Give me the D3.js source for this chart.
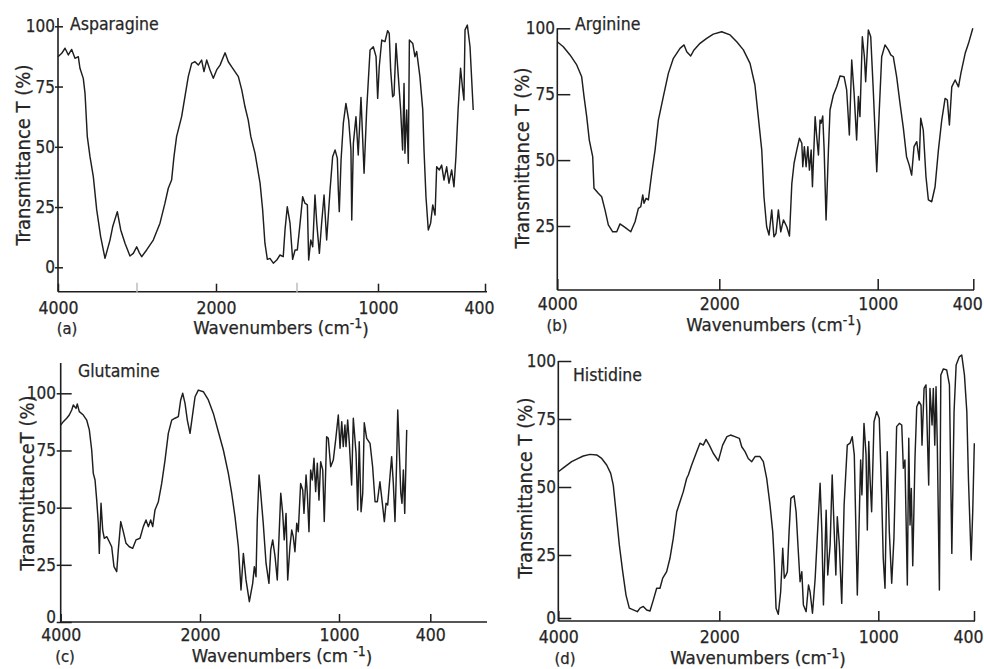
<!DOCTYPE html>
<html>
<head>
<meta charset="utf-8">
<script src="https://cdn.jsdelivr.net/npm/d3@7"></script>
<style>
  html, body { margin: 0; padding: 0; background: #fff; }
  svg text { font-family: "DejaVu Sans Condensed", "DejaVu Sans", sans-serif; fill: #262626; stroke: #262626; stroke-width: 0.25px; }
</style>
</head>
<body>
<svg id="chart" width="984" height="669"></svg>
<script>
// ---------- tick labels ----------
const xTickValues = [4000, 2000, 1000, 400];
const yTickValuesFull = [0, 25, 50, 75, 100];
const yTickValuesNoZero = [25, 50, 75, 100];
const minorTicksA = [3000, 1500];

// ---------- spectra: [wavenumber cm-1, transmittance %] ----------
const asparagine = [
[4000,87.4],[3953,88.8],[3911,90.9],[3869,88.1],[3827,90.4],[3785,86.7],[3743,87.4],[3722,82.6],[3680,78.4],[3658,72.2],[3629,54.2],[3595,45.9],[3553,37.6],[3510,23.8],[3460,12.7],[3405,3.7],[3342,11.3],[3308,16.8],[3249,23.1],[3206,15.5],[3152,10],[3089,4.7],[3047,5.8],[3004,8.5],[2971,6.1],[2941,4.4],[2878,7.2],[2794,11.3],[2709,18.3],[2646,26.6],[2604,32.8],[2562,36.2],[2532,45.9],[2499,54.2],[2435,62.5],[2393,70.8],[2351,79.1],[2308,84.6],[2266,85.3],[2224,83.9],[2182,86],[2152,81.2],[2118,86],[2076,81.9],[2034,78.4],[1996,81.9],[1975,83.9],[1944,89],[1924,85.3],[1903,83.2],[1883,81.2],[1862,79.1],[1841,73.6],[1821,66.6],[1801,61.1],[1785,54.2],[1759,47.3],[1728,34.9],[1712,23.8],[1698,10],[1683,3.3],[1667,3.7],[1646,1.7],[1625,3],[1605,5.1],[1585,4.4],[1574,15.5],[1560,25.1],[1543,18.3],[1527,3.3],[1512,7.2],[1498,7.2],[1481,18.3],[1465,29.3],[1451,26.6],[1436,25.9],[1428,3],[1415,11.3],[1403,8.5],[1389,30],[1378,18.3],[1362,5.8],[1348,18.3],[1333,30],[1317,11.3],[1296,32.1],[1280,45.9],[1265,48.7],[1251,45.2],[1245,32.1],[1239,23.1],[1228,44.5],[1214,59.8],[1198,68],[1181,61.1],[1167,48.7],[1162,19.6],[1152,51.5],[1136,62.5],[1122,46.6],[1105,70.5],[1086,39],[1070,65.3],[1049,90.2],[1029,91.5],[1012,87.4],[1002,70.1],[993,83.2],[979,94.3],[961,93.6],[946,98.2],[937,97.1],[929,81.9],[918,70.8],[910,71.5],[899,92.9],[886,79.1],[873,65.3],[862,48.7],[854,76.3],[849,47.3],[839,65.3],[830,43.2],[824,94.3],[805,92.9],[793,87.4],[783,89.5],[765,79.1],[749,65.3],[742,48.7],[731,29.3],[718,15.5],[705,18.3],[693,25.9],[680,21.7],[671,41.7],[656,40.4],[643,42.4],[630,36.2],[615,41.7],[602,34.9],[587,40.4],[574,33.4],[563,45.9],[551,65.3],[537,82.6],[525,73.6],[518,69.4],[512,98.5],[499,100.5],[484,91.5],[466,65.3]
];

const arginine = [
[4000,94.9],[3926,93],[3843,89.9],[3760,86.1],[3699,81.6],[3670,74.1],[3637,66.5],[3605,57.6],[3563,51.3],[3547,39.3],[3494,37.4],[3452,36.1],[3411,31.1],[3370,25.4],[3316,22.8],[3266,22.8],[3226,25.8],[3164,24.5],[3093,22.8],[3040,26.6],[2999,31.7],[2970,32.3],[2945,36.8],[2929,33.6],[2904,35.5],[2876,34.9],[2834,45],[2793,53.8],[2752,65.2],[2691,74.1],[2629,82.9],[2567,88.6],[2485,92.4],[2435,93.7],[2402,91.1],[2353,89.5],[2312,91.8],[2238,94.3],[2156,96.2],[2074,97.8],[1985,98.7],[1932,97.5],[1890,94.9],[1848,91.8],[1806,86.7],[1775,78.5],[1754,66.5],[1732,53.8],[1718,36.1],[1701,24.7],[1686,21.6],[1669,31.1],[1655,20.9],[1642,22.2],[1627,31.1],[1612,22.8],[1595,27.3],[1574,24.7],[1557,21.2],[1542,41.2],[1528,48.8],[1511,53.8],[1494,58.3],[1479,56.4],[1473,47.5],[1463,55.1],[1452,47.5],[1441,55.1],[1431,46.2],[1420,53.8],[1412,39.9],[1395,66.5],[1385,58.9],[1374,51.9],[1364,65.2],[1357,64],[1347,66.7],[1338,53.8],[1326,27.3],[1311,53.8],[1301,69],[1280,74.7],[1259,77.8],[1238,81.9],[1212,81.6],[1196,76.6],[1179,59.5],[1164,88],[1149,75.3],[1133,57.6],[1122,74.1],[1112,66.5],[1097,96.8],[1084,89.2],[1076,79.7],[1059,99.4],[1044,96.8],[1028,76.6],[1006,45.6],[990,69],[975,89.2],[954,93.7],[933,91.8],[918,89.9],[902,89.2],[881,81.6],[860,71.5],[839,62.1],[819,51.3],[802,48.1],[787,44.3],[772,55.1],[755,57],[739,50],[730,65.9],[714,61.4],[697,43.7],[682,34.9],[661,34.2],[640,39.9],[619,53.8],[598,65.2],[577,73.4],[563,72.8],[550,63.3],[535,77.8],[514,80.4],[493,77.8],[478,82.9],[451,90.5],[430,94.3],[403,100]
];

const glutamine = [
[4000,86.1],[3963,87.6],[3914,89.1],[3877,90.5],[3842,92.7],[3819,94.9],[3780,93.4],[3762,95.3],[3733,92],[3675,90.5],[3627,88.3],[3589,84],[3555,75.2],[3532,65],[3507,62.1],[3483,53.3],[3460,43.2],[3446,30],[3421,51.9],[3397,40.2],[3374,36.6],[3339,37.3],[3302,35.1],[3268,32.9],[3235,24.2],[3196,22],[3173,31.5],[3138,43.9],[3101,39.5],[3062,34.4],[3015,32.9],[2966,32.2],[2919,35.9],[2861,36.6],[2814,41.7],[2775,44.6],[2742,41.7],[2708,44.6],[2679,41.7],[2646,49],[2598,52.6],[2550,60.6],[2502,70.8],[2455,82.5],[2406,88.3],[2359,89.1],[2311,89.8],[2277,97.1],[2248,100],[2215,95.6],[2182,88.3],[2143,82.5],[2104,91.2],[2071,98.5],[2024,101.4],[1976,100.7],[1940,97.1],[1904,91.2],[1868,83.2],[1832,75.2],[1796,65],[1772,56.3],[1748,46],[1724,32.9],[1705,14],[1688,30],[1669,18.4],[1645,8.9],[1621,16.9],[1609,24.2],[1597,19.8],[1588,44.6],[1575,64.3],[1565,57.7],[1545,43.2],[1525,25.7],[1504,16.9],[1491,31.5],[1477,35.9],[1460,28.6],[1444,18.4],[1419,56.3],[1405,47.5],[1394,35.9],[1381,47.5],[1369,18.4],[1353,32.9],[1340,40.2],[1329,37.3],[1317,30.7],[1304,43.2],[1293,39.5],[1276,60.6],[1261,57.7],[1252,47.5],[1237,64.3],[1228,56.3],[1216,39.5],[1204,66.5],[1192,62.1],[1180,71.6],[1168,57],[1156,69.4],[1144,53.3],[1132,70.1],[1117,66.5],[1106,43.9],[1089,81],[1077,80.3],[1060,67.9],[1041,70.8],[1024,79.6],[1005,90.5],[993,76],[982,87.6],[972,76.7],[961,86.1],[954,76.7],[943,88.3],[932,78.1],[917,59.9],[906,89.1],[888,73.8],[877,49],[867,78.8],[855,48.2],[844,56.3],[834,87.1],[818,80.3],[796,78.1],[779,67.9],[763,52.6],[748,52.6],[731,61.3],[715,51.9],[702,43.9],[691,51.9],[680,51.2],[665,63.5],[654,72.3],[643,60.6],[632,43.9],[621,70.8],[614,92.7],[604,75.2],[594,56.3],[586,51.9],[577,66.5],[568,47.5],[555,84]
];

const histidine = [
[4000,55.6],[3917,57.5],[3834,59.3],[3752,60.5],[3690,61.4],[3606,62],[3523,61.8],[3461,60.5],[3399,58.1],[3349,55],[3317,50.7],[3283,40.9],[3242,28.7],[3200,18.4],[3159,9.1],[3118,3.9],[3068,3.2],[3018,2.5],[2985,3.9],[2944,4.6],[2902,3.2],[2861,2.8],[2820,7.1],[2778,11.8],[2737,11.8],[2703,15.8],[2654,18.4],[2613,23.7],[2572,31.1],[2529,40.9],[2488,44.6],[2447,48.3],[2405,53.2],[2385,54.4],[2343,58.1],[2281,63],[2240,66.1],[2199,65.4],[2165,67.5],[2124,65.4],[2075,62.4],[2012,59.6],[1979,65.4],[1952,68.5],[1929,69.1],[1902,68.5],[1874,67.9],[1859,64.8],[1838,63],[1818,60.5],[1796,59.3],[1775,61.2],[1744,61.2],[1723,59.3],[1702,53.2],[1681,43.4],[1664,33.6],[1654,22.4],[1643,3.9],[1629,1.5],[1614,10.4],[1601,27.5],[1591,15.8],[1580,17.1],[1572,18.4],[1561,33.6],[1550,45.8],[1530,46.8],[1517,40.9],[1503,26.2],[1492,14.4],[1481,18.4],[1471,5.2],[1454,2.5],[1439,13.1],[1429,10.4],[1414,1.9],[1397,15.8],[1383,32.4],[1366,51.4],[1355,33.6],[1345,5.2],[1328,41.5],[1318,17.1],[1303,28.7],[1290,54.4],[1278,34.8],[1267,17.1],[1258,39.1],[1245,28.7],[1230,5.8],[1215,43.4],[1195,65.4],[1178,66.1],[1164,68.5],[1151,61.8],[1132,9.1],[1111,59.9],[1103,47.1],[1090,73.4],[1077,61.8],[1069,34.2],[1060,66.7],[1052,53.2],[1042,40.9],[1027,74],[1010,78.1],[994,75.3],[979,47.1],[969,23.7],[958,11.8],[944,63],[931,33.6],[916,13.8],[902,31.1],[885,72.2],[868,73.4],[853,72.8],[843,56.9],[833,59.9],[818,13.1],[809,67.9],[801,36],[793,49.5],[784,20.7],[770,60.5],[759,80.3],[745,82.5],[732,81],[726,65.4],[713,88.2],[701,89.7],[692,67.9],[684,50.7],[676,88.2],[663,72.8],[655,88.2],[646,65.4],[638,88.9],[630,65.4],[617,11.1],[608,94],[592,96.6],[571,96.1],[554,89.7],[539,25.6],[525,78.1],[512,98.3],[492,101.8],[477,102.6],[460,94],[445,78.1],[435,53.2],[418,23],[408,40.9],[398,66.1]
];

// ---------- layout of the four panels ----------
const panels = [
  { data: asparagine, name: "Asparagine", tag: "(a)", yTitle: "Transmittance T (%)", xTitleSpace: "",
    xr: [58, 216, 378, 485], yd: [0, 100], yr: [267.3, 26.3],
    axX: 58, axY: 291.7, yTop: 18, xEnd: 487, yTicks: yTickValuesFull, zeroLift: 0,
    tickIn: 5, tickOut: 3, yLabelX: 55, xTickLen: 8, xPad: 9.5, lastShift: -6,
    xTitleX: 281, xTitleY: 334, tagX: 67, tagY: 334, yTitleX: 30, yTitleY: 155, nameX: 70, nameY: 30, minor: minorTicksA },
  { data: arginine, name: "Arginine", tag: "(b)", yTitle: "Transmittance T (%)", xTitleSpace: "",
    xr: [557.3, 719.3, 877.7, 973.3], yd: [0, 100], yr: [291.9, 28.3],
    axX: 557.3, axY: 290, yTop: 28.3, xEnd: 974, yTicks: yTickValuesNoZero, zeroLift: 0,
    tickIn: 13, tickOut: 0, yLabelX: 555, xTickLen: 11, xPad: 8, lastShift: -6,
    xTitleX: 774, xTitleY: 331, tagX: 557, tagY: 331, yTitleX: 529, yTitleY: 158, nameX: 575, nameY: 30, minor: [] },
  { data: glutamine, name: "Glutamine", tag: "(c)", yTitle: "TransmittanceT (%)", xTitleSpace: " ",
    xr: [60.7, 200, 339, 430.3], yd: [0, 100], yr: [622, 393.3],
    axX: 60.7, axY: 622, yTop: 363, xEnd: 487, yTicks: yTickValuesFull, zeroLift: 5,
    tickIn: 11, tickOut: 4, yLabelX: 56, xTickLen: 8, xPad: 6.5, lastShift: 0,
    xTitleX: 282, xTitleY: 662, tagX: 65, tagY: 662, yTitleX: 34, yTitleY: 483, nameX: 78, nameY: 377, minor: [] },
  { data: histidine, name: "Histidine", tag: "(d)", yTitle: "Transmittance T (%)", xTitleSpace: "",
    xr: [558.3, 719.3, 878.3, 974], yd: [0, 25, 50, 75, 100], yr: [618, 555, 487, 419, 361],
    axX: 558.3, axY: 621, yTop: 361, xEnd: 975, yTicks: yTickValuesFull, zeroLift: 0,
    tickIn: 13, tickOut: 0, yLabelX: 556, xTickLen: 10, xPad: 10, lastShift: -6,
    xTitleX: 758, xTitleY: 664, tagX: 565, tagY: 664, yTitleX: 532, yTitleY: 488, nameX: 573, nameY: 381, minor: [] }
];

const INK = "#1e1e1e";
const svg = d3.select("#chart");
svg.append("rect").attr("width", 984).attr("height", 669).attr("fill", "#fff");

panels.forEach(p => {
  const g = svg.append("g");
  const x = d3.scaleLinear().domain(xTickValues).range(p.xr);
  const y = d3.scaleLinear().domain(p.yd).range(p.yr);

  // axis lines
  g.append("line").attr("x1", p.axX).attr("x2", p.xEnd).attr("y1", p.axY).attr("y2", p.axY)
    .attr("stroke", INK).attr("stroke-width", 1.6);
  g.append("line").attr("x1", p.axX).attr("x2", p.axX).attr("y1", p.axY).attr("y2", p.yTop)
    .attr("stroke", INK).attr("stroke-width", 1.6);

  // x axis ticks (pointing inward/up)
  const xa = g.append("g").attr("transform", `translate(0,${p.axY})`)
    .call(d3.axisBottom(x).tickValues(xTickValues).tickSizeInner(-p.xTickLen).tickSizeOuter(0)
      .tickPadding(p.xPad).tickFormat(d3.format("d")));
  xa.select(".domain").remove();
  xa.selectAll(".tick line").attr("stroke", INK).attr("stroke-width", 1.5);
  xa.selectAll(".tick text").attr("font-size", 17.5).attr("fill", "#262626");
  xa.selectAll(".tick").filter(d => d === 400).select("text").attr("dx", p.lastShift);
  xa.attr("font-family", null).attr("font-size", null);

  // faint minor marks
  p.minor.forEach(v => {
    g.append("line").attr("x1", x(v)).attr("x2", x(v)).attr("y1", p.axY + 1).attr("y2", p.axY - 9)
      .attr("stroke", "#b8b8b8").attr("stroke-width", 1.4);
  });

  // y axis ticks
  const ya = g.append("g").attr("transform", `translate(${p.axX},0)`)
    .call(d3.axisLeft(y).tickValues(p.yTicks).tickSizeInner(-p.tickIn).tickSizeOuter(0)
      .tickPadding(p.axX - p.yLabelX).tickFormat(d3.format("d")));
  ya.select(".domain").remove();
  ya.selectAll(".tick line").attr("x1", -p.tickOut).attr("stroke", INK).attr("stroke-width", 1.5);
  ya.selectAll(".tick text").attr("font-size", 17).attr("fill", "#262626");
  ya.selectAll(".tick").filter(d => d === 0).select("text").attr("y", -p.zeroLift);
  ya.attr("font-family", null).attr("font-size", null);

  // spectrum
  const line = d3.line().x(d => x(d[0])).y(d => y(d[1])).curve(d3.curveLinear);
  g.append("path").datum(p.data).attr("d", line)
    .attr("fill", "none").attr("stroke", INK).attr("stroke-width", 1.45)
    .attr("stroke-linejoin", "round");

  // texts
  g.append("text").attr("x", p.nameX).attr("y", p.nameY).attr("font-size", 17.5).text(p.name);
  g.append("text").attr("x", p.tagX).attr("y", p.tagY).attr("font-size", 16.5)
    .attr("text-anchor", "middle").text(p.tag);
  const xt = g.append("text").attr("x", p.xTitleX).attr("y", p.xTitleY).attr("font-size", 18.5)
    .attr("text-anchor", "middle");
  xt.append("tspan").text("Wavenumbers (cm" + p.xTitleSpace);
  xt.append("tspan").attr("dy", "-0.4em").attr("font-size", 14).text("-1");
  xt.append("tspan").attr("dy", "0.4em").text(")");
  g.append("text").attr("transform", `translate(${p.yTitleX},${p.yTitleY}) rotate(-90)`)
    .attr("font-size", 20).attr("text-anchor", "middle").text(p.yTitle);
});
</script>
</body>
</html>
